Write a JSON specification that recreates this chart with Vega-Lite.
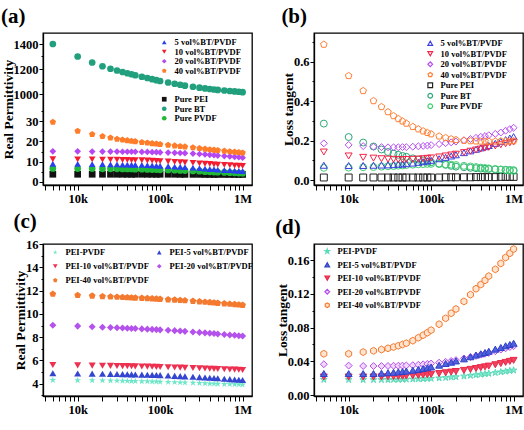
{
"$schema":"https://vega.github.io/schema/vega-lite/v6.json",
"background":"white",
"padding":{"left":0,"top":5,"right":0,"bottom":0},
"config":{
 "font":"Liberation Serif",
 "view":{"stroke":"black","strokeWidth":1.3},
 "axis":{"grid":false,"labelFont":"Liberation Serif","labelFontWeight":"bold","labelFontSize":12.5,"labelColor":"black","titleFont":"Liberation Serif","titleFontWeight":"bold","titleFontSize":13.5,"titleColor":"black","domainColor":"black","domainWidth":1.3,"tickColor":"black","tickWidth":1},
 "axisX":{"labelPadding":2,"titlePadding":2,"labelFlush":false,"labelOverlap":false,"values":[4,5,6,7,8,9,10,20,30,40,50,60,70,80,90,100,200,300,400,500,600,700,800,900,1000],"labelExpr":"datum.value==10?'10k':datum.value==100?'100k':datum.value==1000?'1M':''","title":"Frequency(Hz)"},
 "axisY":{"labelPadding":1,"titlePadding":-2,"labelOverlap":false},
 "legend":{"labelFont":"Liberation Serif","labelFontWeight":"bold","labelFontSize":8.5,"labelColor":"black","padding":0,"orient":"none","title":null,"symbolSize":22,"rowPadding":0.5,"labelOffset":6,"symbolStrokeWidth":1.2},
 "title":{"font":"Liberation Serif","fontWeight":"bold","fontSize":21,"color":"black","anchor":"start","frame":"bounds","offset":6}
},
"datasets":{
"ab":[
{"f":5,"s":"Pure PEI","e":3.8,"t":0.013},{"f":10,"s":"Pure PEI","e":3.8,"t":0.013},{"f":15,"s":"Pure PEI","e":3.8,"t":0.013},{"f":20,"s":"Pure PEI","e":3.8,"t":0.013},{"f":25,"s":"Pure PEI","e":3.8,"t":0.013},{"f":30,"s":"Pure PEI","e":3.8,"t":0.013},{"f":35,"s":"Pure PEI","e":3.8,"t":0.013},{"f":40,"s":"Pure PEI","e":3.8,"t":0.013},{"f":45,"s":"Pure PEI","e":3.8,"t":0.013},{"f":50,"s":"Pure PEI","e":3.8,"t":0.013},{"f":60,"s":"Pure PEI","e":3.8,"t":0.013},{"f":70,"s":"Pure PEI","e":3.8,"t":0.013},{"f":80,"s":"Pure PEI","e":3.8,"t":0.013},{"f":90,"s":"Pure PEI","e":3.8,"t":0.013},{"f":100,"s":"Pure PEI","e":3.8,"t":0.013},{"f":125,"s":"Pure PEI","e":3.8,"t":0.013},{"f":150,"s":"Pure PEI","e":3.8,"t":0.014},{"f":175,"s":"Pure PEI","e":3.75,"t":0.014},{"f":200,"s":"Pure PEI","e":3.75,"t":0.014},{"f":250,"s":"Pure PEI","e":3.75,"t":0.014},{"f":300,"s":"Pure PEI","e":3.75,"t":0.014},{"f":350,"s":"Pure PEI","e":3.7,"t":0.015},{"f":400,"s":"Pure PEI","e":3.7,"t":0.015},{"f":450,"s":"Pure PEI","e":3.7,"t":0.015},{"f":500,"s":"Pure PEI","e":3.7,"t":0.015},{"f":600,"s":"Pure PEI","e":3.7,"t":0.015},{"f":700,"s":"Pure PEI","e":3.7,"t":0.016},{"f":800,"s":"Pure PEI","e":3.7,"t":0.016},{"f":900,"s":"Pure PEI","e":3.7,"t":0.016},{"f":1000,"s":"Pure PEI","e":3.7,"t":0.016},
{"f":5,"s":"Pure BT","e":1400,"t":0.286},{"f":10,"s":"Pure BT","e":1300,"t":0.218},{"f":15,"s":"Pure BT","e":1252,"t":0.19},{"f":20,"s":"Pure BT","e":1222,"t":0.17},{"f":25,"s":"Pure BT","e":1202,"t":0.155},{"f":30,"s":"Pure BT","e":1188,"t":0.142},{"f":35,"s":"Pure BT","e":1176,"t":0.134},{"f":40,"s":"Pure BT","e":1166,"t":0.128},{"f":45,"s":"Pure BT","e":1158,"t":0.122},{"f":50,"s":"Pure BT","e":1150,"t":0.118},{"f":60,"s":"Pure BT","e":1138,"t":0.11},{"f":70,"s":"Pure BT","e":1128,"t":0.104},{"f":80,"s":"Pure BT","e":1119,"t":0.099},{"f":90,"s":"Pure BT","e":1111,"t":0.094},{"f":100,"s":"Pure BT","e":1104,"t":0.09},{"f":125,"s":"Pure BT","e":1092,"t":0.083},{"f":150,"s":"Pure BT","e":1082,"t":0.077},{"f":175,"s":"Pure BT","e":1074,"t":0.072},{"f":200,"s":"Pure BT","e":1067,"t":0.068},{"f":250,"s":"Pure BT","e":1058,"t":0.065},{"f":300,"s":"Pure BT","e":1051,"t":0.062},{"f":350,"s":"Pure BT","e":1045,"t":0.06},{"f":400,"s":"Pure BT","e":1040,"t":0.058},{"f":450,"s":"Pure BT","e":1036,"t":0.057},{"f":500,"s":"Pure BT","e":1033,"t":0.056},{"f":600,"s":"Pure BT","e":1028,"t":0.054},{"f":700,"s":"Pure BT","e":1024,"t":0.053},{"f":800,"s":"Pure BT","e":1021,"t":0.052},{"f":900,"s":"Pure BT","e":1018,"t":0.051},{"f":1000,"s":"Pure BT","e":1015,"t":0.05},
{"f":5,"s":"Pure PVDF","e":6.7,"t":0.062},{"f":10,"s":"Pure PVDF","e":6.6,"t":0.063},{"f":15,"s":"Pure PVDF","e":6.6,"t":0.065},{"f":20,"s":"Pure PVDF","e":6.5,"t":0.066},{"f":25,"s":"Pure PVDF","e":6.5,"t":0.068},{"f":30,"s":"Pure PVDF","e":6.5,"t":0.07},{"f":35,"s":"Pure PVDF","e":6.4,"t":0.071},{"f":40,"s":"Pure PVDF","e":6.4,"t":0.073},{"f":45,"s":"Pure PVDF","e":6.4,"t":0.074},{"f":50,"s":"Pure PVDF","e":6.3,"t":0.076},{"f":60,"s":"Pure PVDF","e":6.3,"t":0.078},{"f":70,"s":"Pure PVDF","e":6.2,"t":0.08},{"f":80,"s":"Pure PVDF","e":6.1,"t":0.081},{"f":90,"s":"Pure PVDF","e":6.1,"t":0.082},{"f":100,"s":"Pure PVDF","e":6.0,"t":0.082},{"f":125,"s":"Pure PVDF","e":5.9,"t":0.081},{"f":150,"s":"Pure PVDF","e":5.8,"t":0.08},{"f":175,"s":"Pure PVDF","e":5.7,"t":0.078},{"f":200,"s":"Pure PVDF","e":5.6,"t":0.076},{"f":250,"s":"Pure PVDF","e":5.4,"t":0.072},{"f":300,"s":"Pure PVDF","e":5.3,"t":0.069},{"f":350,"s":"Pure PVDF","e":5.1,"t":0.066},{"f":400,"s":"Pure PVDF","e":5.0,"t":0.063},{"f":450,"s":"Pure PVDF","e":4.9,"t":0.061},{"f":500,"s":"Pure PVDF","e":4.8,"t":0.059},{"f":600,"s":"Pure PVDF","e":4.7,"t":0.056},{"f":700,"s":"Pure PVDF","e":4.6,"t":0.053},{"f":800,"s":"Pure PVDF","e":4.5,"t":0.05},{"f":900,"s":"Pure PVDF","e":4.4,"t":0.048},{"f":1000,"s":"Pure PVDF","e":4.3,"t":0.046},
{"f":5,"s":"5 vol%BT/PVDF","e":9.0,"t":0.075},{"f":10,"s":"5 vol%BT/PVDF","e":8.9,"t":0.074},{"f":15,"s":"5 vol%BT/PVDF","e":8.8,"t":0.074},{"f":20,"s":"5 vol%BT/PVDF","e":8.8,"t":0.075},{"f":25,"s":"5 vol%BT/PVDF","e":8.7,"t":0.076},{"f":30,"s":"5 vol%BT/PVDF","e":8.7,"t":0.077},{"f":35,"s":"5 vol%BT/PVDF","e":8.6,"t":0.078},{"f":40,"s":"5 vol%BT/PVDF","e":8.6,"t":0.08},{"f":45,"s":"5 vol%BT/PVDF","e":8.5,"t":0.081},{"f":50,"s":"5 vol%BT/PVDF","e":8.5,"t":0.083},{"f":60,"s":"5 vol%BT/PVDF","e":8.4,"t":0.086},{"f":70,"s":"5 vol%BT/PVDF","e":8.3,"t":0.09},{"f":80,"s":"5 vol%BT/PVDF","e":8.2,"t":0.093},{"f":90,"s":"5 vol%BT/PVDF","e":8.1,"t":0.097},{"f":100,"s":"5 vol%BT/PVDF","e":8.0,"t":0.1},{"f":125,"s":"5 vol%BT/PVDF","e":7.8,"t":0.108},{"f":150,"s":"5 vol%BT/PVDF","e":7.6,"t":0.115},{"f":175,"s":"5 vol%BT/PVDF","e":7.5,"t":0.122},{"f":200,"s":"5 vol%BT/PVDF","e":7.3,"t":0.128},{"f":250,"s":"5 vol%BT/PVDF","e":7.1,"t":0.139},{"f":300,"s":"5 vol%BT/PVDF","e":6.8,"t":0.148},{"f":350,"s":"5 vol%BT/PVDF","e":6.6,"t":0.156},{"f":400,"s":"5 vol%BT/PVDF","e":6.4,"t":0.163},{"f":450,"s":"5 vol%BT/PVDF","e":6.3,"t":0.169},{"f":500,"s":"5 vol%BT/PVDF","e":6.1,"t":0.175},{"f":600,"s":"5 vol%BT/PVDF","e":5.9,"t":0.186},{"f":700,"s":"5 vol%BT/PVDF","e":5.8,"t":0.196},{"f":800,"s":"5 vol%BT/PVDF","e":5.6,"t":0.205},{"f":900,"s":"5 vol%BT/PVDF","e":5.5,"t":0.213},{"f":1000,"s":"5 vol%BT/PVDF","e":5.4,"t":0.22},
{"f":5,"s":"10 vol%BT/PVDF","e":11.2,"t":0.142},{"f":10,"s":"10 vol%BT/PVDF","e":11.1,"t":0.122},{"f":15,"s":"10 vol%BT/PVDF","e":11.1,"t":0.115},{"f":20,"s":"10 vol%BT/PVDF","e":11.0,"t":0.111},{"f":25,"s":"10 vol%BT/PVDF","e":11.0,"t":0.108},{"f":30,"s":"10 vol%BT/PVDF","e":11.0,"t":0.106},{"f":35,"s":"10 vol%BT/PVDF","e":10.9,"t":0.105},{"f":40,"s":"10 vol%BT/PVDF","e":10.9,"t":0.104},{"f":45,"s":"10 vol%BT/PVDF","e":10.8,"t":0.104},{"f":50,"s":"10 vol%BT/PVDF","e":10.8,"t":0.104},{"f":60,"s":"10 vol%BT/PVDF","e":10.7,"t":0.105},{"f":70,"s":"10 vol%BT/PVDF","e":10.6,"t":0.106},{"f":80,"s":"10 vol%BT/PVDF","e":10.5,"t":0.108},{"f":90,"s":"10 vol%BT/PVDF","e":10.4,"t":0.11},{"f":100,"s":"10 vol%BT/PVDF","e":10.3,"t":0.112},{"f":125,"s":"10 vol%BT/PVDF","e":10.1,"t":0.117},{"f":150,"s":"10 vol%BT/PVDF","e":9.9,"t":0.122},{"f":175,"s":"10 vol%BT/PVDF","e":9.8,"t":0.127},{"f":200,"s":"10 vol%BT/PVDF","e":9.6,"t":0.131},{"f":250,"s":"10 vol%BT/PVDF","e":9.4,"t":0.139},{"f":300,"s":"10 vol%BT/PVDF","e":9.2,"t":0.146},{"f":350,"s":"10 vol%BT/PVDF","e":9.0,"t":0.152},{"f":400,"s":"10 vol%BT/PVDF","e":8.9,"t":0.157},{"f":450,"s":"10 vol%BT/PVDF","e":8.7,"t":0.162},{"f":500,"s":"10 vol%BT/PVDF","e":8.6,"t":0.166},{"f":600,"s":"10 vol%BT/PVDF","e":8.4,"t":0.173},{"f":700,"s":"10 vol%BT/PVDF","e":8.3,"t":0.179},{"f":800,"s":"10 vol%BT/PVDF","e":8.1,"t":0.184},{"f":900,"s":"10 vol%BT/PVDF","e":8.0,"t":0.189},{"f":1000,"s":"10 vol%BT/PVDF","e":7.9,"t":0.193},
{"f":5,"s":"20 vol%BT/PVDF","e":15.1,"t":0.186},{"f":10,"s":"20 vol%BT/PVDF","e":15.1,"t":0.178},{"f":15,"s":"20 vol%BT/PVDF","e":15.0,"t":0.172},{"f":20,"s":"20 vol%BT/PVDF","e":15.0,"t":0.169},{"f":25,"s":"20 vol%BT/PVDF","e":15.0,"t":0.167},{"f":30,"s":"20 vol%BT/PVDF","e":15.0,"t":0.166},{"f":35,"s":"20 vol%BT/PVDF","e":14.9,"t":0.166},{"f":40,"s":"20 vol%BT/PVDF","e":14.9,"t":0.166},{"f":45,"s":"20 vol%BT/PVDF","e":14.9,"t":0.167},{"f":50,"s":"20 vol%BT/PVDF","e":14.9,"t":0.167},{"f":60,"s":"20 vol%BT/PVDF","e":14.8,"t":0.169},{"f":70,"s":"20 vol%BT/PVDF","e":14.8,"t":0.171},{"f":80,"s":"20 vol%BT/PVDF","e":14.7,"t":0.173},{"f":90,"s":"20 vol%BT/PVDF","e":14.7,"t":0.175},{"f":100,"s":"20 vol%BT/PVDF","e":14.6,"t":0.177},{"f":125,"s":"20 vol%BT/PVDF","e":14.5,"t":0.182},{"f":150,"s":"20 vol%BT/PVDF","e":14.4,"t":0.187},{"f":175,"s":"20 vol%BT/PVDF","e":14.3,"t":0.191},{"f":200,"s":"20 vol%BT/PVDF","e":14.2,"t":0.195},{"f":250,"s":"20 vol%BT/PVDF","e":14.0,"t":0.202},{"f":300,"s":"20 vol%BT/PVDF","e":13.8,"t":0.208},{"f":350,"s":"20 vol%BT/PVDF","e":13.6,"t":0.214},{"f":400,"s":"20 vol%BT/PVDF","e":13.4,"t":0.219},{"f":450,"s":"20 vol%BT/PVDF","e":13.2,"t":0.223},{"f":500,"s":"20 vol%BT/PVDF","e":13.0,"t":0.227},{"f":600,"s":"20 vol%BT/PVDF","e":12.8,"t":0.234},{"f":700,"s":"20 vol%BT/PVDF","e":12.6,"t":0.241},{"f":800,"s":"20 vol%BT/PVDF","e":12.4,"t":0.25},{"f":900,"s":"20 vol%BT/PVDF","e":12.2,"t":0.258},{"f":1000,"s":"20 vol%BT/PVDF","e":12.0,"t":0.265},
{"f":5,"s":"40 vol%BT/PVDF","e":29.6,"t":0.687},{"f":10,"s":"40 vol%BT/PVDF","e":25.1,"t":0.528},{"f":15,"s":"40 vol%BT/PVDF","e":23.5,"t":0.452},{"f":20,"s":"40 vol%BT/PVDF","e":22.5,"t":0.401},{"f":25,"s":"40 vol%BT/PVDF","e":21.8,"t":0.371},{"f":30,"s":"40 vol%BT/PVDF","e":21.2,"t":0.345},{"f":35,"s":"40 vol%BT/PVDF","e":20.8,"t":0.325},{"f":40,"s":"40 vol%BT/PVDF","e":20.5,"t":0.31},{"f":45,"s":"40 vol%BT/PVDF","e":20.2,"t":0.298},{"f":50,"s":"40 vol%BT/PVDF","e":20.0,"t":0.287},{"f":60,"s":"40 vol%BT/PVDF","e":19.6,"t":0.27},{"f":70,"s":"40 vol%BT/PVDF","e":19.3,"t":0.258},{"f":80,"s":"40 vol%BT/PVDF","e":19.0,"t":0.248},{"f":90,"s":"40 vol%BT/PVDF","e":18.8,"t":0.24},{"f":100,"s":"40 vol%BT/PVDF","e":18.6,"t":0.233},{"f":125,"s":"40 vol%BT/PVDF","e":18.2,"t":0.222},{"f":150,"s":"40 vol%BT/PVDF","e":17.9,"t":0.214},{"f":175,"s":"40 vol%BT/PVDF","e":17.6,"t":0.208},{"f":200,"s":"40 vol%BT/PVDF","e":17.4,"t":0.204},{"f":250,"s":"40 vol%BT/PVDF","e":17.0,"t":0.2},{"f":300,"s":"40 vol%BT/PVDF","e":16.6,"t":0.198},{"f":350,"s":"40 vol%BT/PVDF","e":16.3,"t":0.197},{"f":400,"s":"40 vol%BT/PVDF","e":16.0,"t":0.196},{"f":450,"s":"40 vol%BT/PVDF","e":15.8,"t":0.196},{"f":500,"s":"40 vol%BT/PVDF","e":15.6,"t":0.196},{"f":600,"s":"40 vol%BT/PVDF","e":15.3,"t":0.196},{"f":700,"s":"40 vol%BT/PVDF","e":15.0,"t":0.197},{"f":800,"s":"40 vol%BT/PVDF","e":14.8,"t":0.197},{"f":900,"s":"40 vol%BT/PVDF","e":14.6,"t":0.198},{"f":1000,"s":"40 vol%BT/PVDF","e":14.4,"t":0.198}
],
"cd":[
{"f":5,"s":"PEI-PVDF","e":4.32,"t":0.0185},{"f":10,"s":"PEI-PVDF","e":4.3,"t":0.0183},{"f":15,"s":"PEI-PVDF","e":4.29,"t":0.0182},{"f":20,"s":"PEI-PVDF","e":4.28,"t":0.0182},{"f":25,"s":"PEI-PVDF","e":4.27,"t":0.0182},{"f":30,"s":"PEI-PVDF","e":4.26,"t":0.0183},{"f":35,"s":"PEI-PVDF","e":4.25,"t":0.0184},{"f":40,"s":"PEI-PVDF","e":4.24,"t":0.0185},{"f":45,"s":"PEI-PVDF","e":4.23,"t":0.0186},{"f":50,"s":"PEI-PVDF","e":4.22,"t":0.0187},{"f":60,"s":"PEI-PVDF","e":4.21,"t":0.0189},{"f":70,"s":"PEI-PVDF","e":4.2,"t":0.0191},{"f":80,"s":"PEI-PVDF","e":4.19,"t":0.0193},{"f":90,"s":"PEI-PVDF","e":4.18,"t":0.0195},{"f":100,"s":"PEI-PVDF","e":4.17,"t":0.0197},{"f":125,"s":"PEI-PVDF","e":4.15,"t":0.0202},{"f":150,"s":"PEI-PVDF","e":4.13,"t":0.0207},{"f":175,"s":"PEI-PVDF","e":4.11,"t":0.0212},{"f":200,"s":"PEI-PVDF","e":4.1,"t":0.0216},{"f":250,"s":"PEI-PVDF","e":4.07,"t":0.0224},{"f":300,"s":"PEI-PVDF","e":4.05,"t":0.0232},{"f":350,"s":"PEI-PVDF","e":4.03,"t":0.0239},{"f":400,"s":"PEI-PVDF","e":4.02,"t":0.0245},{"f":450,"s":"PEI-PVDF","e":4.0,"t":0.0251},{"f":500,"s":"PEI-PVDF","e":3.99,"t":0.0256},{"f":600,"s":"PEI-PVDF","e":3.97,"t":0.0266},{"f":700,"s":"PEI-PVDF","e":3.96,"t":0.0274},{"f":800,"s":"PEI-PVDF","e":3.95,"t":0.0282},{"f":900,"s":"PEI-PVDF","e":3.94,"t":0.0289},{"f":1000,"s":"PEI-PVDF","e":3.93,"t":0.0295},
{"f":5,"s":"PEI-10 vol%BT/PVDF","e":5.61,"t":0.0215},{"f":10,"s":"PEI-10 vol%BT/PVDF","e":5.58,"t":0.0215},{"f":15,"s":"PEI-10 vol%BT/PVDF","e":5.56,"t":0.0215},{"f":20,"s":"PEI-10 vol%BT/PVDF","e":5.55,"t":0.0215},{"f":25,"s":"PEI-10 vol%BT/PVDF","e":5.54,"t":0.0216},{"f":30,"s":"PEI-10 vol%BT/PVDF","e":5.53,"t":0.0218},{"f":35,"s":"PEI-10 vol%BT/PVDF","e":5.52,"t":0.022},{"f":40,"s":"PEI-10 vol%BT/PVDF","e":5.51,"t":0.0222},{"f":45,"s":"PEI-10 vol%BT/PVDF","e":5.5,"t":0.0224},{"f":50,"s":"PEI-10 vol%BT/PVDF","e":5.49,"t":0.0226},{"f":60,"s":"PEI-10 vol%BT/PVDF","e":5.48,"t":0.023},{"f":70,"s":"PEI-10 vol%BT/PVDF","e":5.47,"t":0.0234},{"f":80,"s":"PEI-10 vol%BT/PVDF","e":5.46,"t":0.0238},{"f":90,"s":"PEI-10 vol%BT/PVDF","e":5.45,"t":0.0242},{"f":100,"s":"PEI-10 vol%BT/PVDF","e":5.44,"t":0.0246},{"f":125,"s":"PEI-10 vol%BT/PVDF","e":5.42,"t":0.0256},{"f":150,"s":"PEI-10 vol%BT/PVDF","e":5.4,"t":0.0265},{"f":175,"s":"PEI-10 vol%BT/PVDF","e":5.39,"t":0.0273},{"f":200,"s":"PEI-10 vol%BT/PVDF","e":5.37,"t":0.028},{"f":250,"s":"PEI-10 vol%BT/PVDF","e":5.35,"t":0.0293},{"f":300,"s":"PEI-10 vol%BT/PVDF","e":5.33,"t":0.0305},{"f":350,"s":"PEI-10 vol%BT/PVDF","e":5.31,"t":0.0316},{"f":400,"s":"PEI-10 vol%BT/PVDF","e":5.29,"t":0.0326},{"f":450,"s":"PEI-10 vol%BT/PVDF","e":5.28,"t":0.0335},{"f":500,"s":"PEI-10 vol%BT/PVDF","e":5.27,"t":0.0344},{"f":600,"s":"PEI-10 vol%BT/PVDF","e":5.25,"t":0.036},{"f":700,"s":"PEI-10 vol%BT/PVDF","e":5.23,"t":0.0374},{"f":800,"s":"PEI-10 vol%BT/PVDF","e":5.21,"t":0.0388},{"f":900,"s":"PEI-10 vol%BT/PVDF","e":5.2,"t":0.04},{"f":1000,"s":"PEI-10 vol%BT/PVDF","e":5.18,"t":0.0412},
{"f":5,"s":"PEI-20 vol%BT/PVDF","e":9.03,"t":0.0366},{"f":10,"s":"PEI-20 vol%BT/PVDF","e":8.95,"t":0.035},{"f":15,"s":"PEI-20 vol%BT/PVDF","e":8.9,"t":0.0345},{"f":20,"s":"PEI-20 vol%BT/PVDF","e":8.86,"t":0.0345},{"f":25,"s":"PEI-20 vol%BT/PVDF","e":8.83,"t":0.0345},{"f":30,"s":"PEI-20 vol%BT/PVDF","e":8.81,"t":0.0346},{"f":35,"s":"PEI-20 vol%BT/PVDF","e":8.79,"t":0.0348},{"f":40,"s":"PEI-20 vol%BT/PVDF","e":8.77,"t":0.0349},{"f":45,"s":"PEI-20 vol%BT/PVDF","e":8.75,"t":0.035},{"f":50,"s":"PEI-20 vol%BT/PVDF","e":8.74,"t":0.0351},{"f":60,"s":"PEI-20 vol%BT/PVDF","e":8.71,"t":0.0355},{"f":70,"s":"PEI-20 vol%BT/PVDF","e":8.69,"t":0.036},{"f":80,"s":"PEI-20 vol%BT/PVDF","e":8.67,"t":0.0365},{"f":90,"s":"PEI-20 vol%BT/PVDF","e":8.65,"t":0.037},{"f":100,"s":"PEI-20 vol%BT/PVDF","e":8.63,"t":0.0375},{"f":125,"s":"PEI-20 vol%BT/PVDF","e":8.59,"t":0.0385},{"f":150,"s":"PEI-20 vol%BT/PVDF","e":8.56,"t":0.0395},{"f":175,"s":"PEI-20 vol%BT/PVDF","e":8.53,"t":0.0405},{"f":200,"s":"PEI-20 vol%BT/PVDF","e":8.5,"t":0.0415},{"f":250,"s":"PEI-20 vol%BT/PVDF","e":8.45,"t":0.0435},{"f":300,"s":"PEI-20 vol%BT/PVDF","e":8.41,"t":0.045},{"f":350,"s":"PEI-20 vol%BT/PVDF","e":8.37,"t":0.0465},{"f":400,"s":"PEI-20 vol%BT/PVDF","e":8.34,"t":0.048},{"f":450,"s":"PEI-20 vol%BT/PVDF","e":8.31,"t":0.049},{"f":500,"s":"PEI-20 vol%BT/PVDF","e":8.28,"t":0.05},{"f":600,"s":"PEI-20 vol%BT/PVDF","e":8.23,"t":0.052},{"f":700,"s":"PEI-20 vol%BT/PVDF","e":8.19,"t":0.054},{"f":800,"s":"PEI-20 vol%BT/PVDF","e":8.16,"t":0.0555},{"f":900,"s":"PEI-20 vol%BT/PVDF","e":8.13,"t":0.057},{"f":1000,"s":"PEI-20 vol%BT/PVDF","e":8.1,"t":0.058},
{"f":5,"s":"PEI-5 vol%BT/PVDF","e":4.9,"t":0.0256},{"f":10,"s":"PEI-5 vol%BT/PVDF","e":4.88,"t":0.0255},{"f":15,"s":"PEI-5 vol%BT/PVDF","e":4.87,"t":0.0255},{"f":20,"s":"PEI-5 vol%BT/PVDF","e":4.86,"t":0.0256},{"f":25,"s":"PEI-5 vol%BT/PVDF","e":4.85,"t":0.026},{"f":30,"s":"PEI-5 vol%BT/PVDF","e":4.84,"t":0.0265},{"f":35,"s":"PEI-5 vol%BT/PVDF","e":4.83,"t":0.027},{"f":40,"s":"PEI-5 vol%BT/PVDF","e":4.82,"t":0.0275},{"f":45,"s":"PEI-5 vol%BT/PVDF","e":4.81,"t":0.028},{"f":50,"s":"PEI-5 vol%BT/PVDF","e":4.8,"t":0.0285},{"f":60,"s":"PEI-5 vol%BT/PVDF","e":4.79,"t":0.0295},{"f":70,"s":"PEI-5 vol%BT/PVDF","e":4.77,"t":0.0305},{"f":80,"s":"PEI-5 vol%BT/PVDF","e":4.76,"t":0.0315},{"f":90,"s":"PEI-5 vol%BT/PVDF","e":4.75,"t":0.0325},{"f":100,"s":"PEI-5 vol%BT/PVDF","e":4.74,"t":0.0334},{"f":125,"s":"PEI-5 vol%BT/PVDF","e":4.71,"t":0.0355},{"f":150,"s":"PEI-5 vol%BT/PVDF","e":4.68,"t":0.0375},{"f":175,"s":"PEI-5 vol%BT/PVDF","e":4.66,"t":0.039},{"f":200,"s":"PEI-5 vol%BT/PVDF","e":4.64,"t":0.0405},{"f":250,"s":"PEI-5 vol%BT/PVDF","e":4.6,"t":0.043},{"f":300,"s":"PEI-5 vol%BT/PVDF","e":4.57,"t":0.0455},{"f":350,"s":"PEI-5 vol%BT/PVDF","e":4.54,"t":0.0475},{"f":400,"s":"PEI-5 vol%BT/PVDF","e":4.52,"t":0.049},{"f":450,"s":"PEI-5 vol%BT/PVDF","e":4.49,"t":0.0505},{"f":500,"s":"PEI-5 vol%BT/PVDF","e":4.47,"t":0.052},{"f":600,"s":"PEI-5 vol%BT/PVDF","e":4.43,"t":0.0545},{"f":700,"s":"PEI-5 vol%BT/PVDF","e":4.4,"t":0.0565},{"f":800,"s":"PEI-5 vol%BT/PVDF","e":4.37,"t":0.0585},{"f":900,"s":"PEI-5 vol%BT/PVDF","e":4.35,"t":0.06},{"f":1000,"s":"PEI-5 vol%BT/PVDF","e":4.32,"t":0.0615},
{"f":5,"s":"PEI-40 vol%BT/PVDF","e":11.71,"t":0.049},{"f":10,"s":"PEI-40 vol%BT/PVDF","e":11.6,"t":0.049},{"f":15,"s":"PEI-40 vol%BT/PVDF","e":11.55,"t":0.051},{"f":20,"s":"PEI-40 vol%BT/PVDF","e":11.5,"t":0.0525},{"f":25,"s":"PEI-40 vol%BT/PVDF","e":11.47,"t":0.054},{"f":30,"s":"PEI-40 vol%BT/PVDF","e":11.45,"t":0.0555},{"f":35,"s":"PEI-40 vol%BT/PVDF","e":11.43,"t":0.057},{"f":40,"s":"PEI-40 vol%BT/PVDF","e":11.41,"t":0.0585},{"f":45,"s":"PEI-40 vol%BT/PVDF","e":11.39,"t":0.06},{"f":50,"s":"PEI-40 vol%BT/PVDF","e":11.38,"t":0.0615},{"f":60,"s":"PEI-40 vol%BT/PVDF","e":11.35,"t":0.0645},{"f":70,"s":"PEI-40 vol%BT/PVDF","e":11.33,"t":0.068},{"f":80,"s":"PEI-40 vol%BT/PVDF","e":11.31,"t":0.071},{"f":90,"s":"PEI-40 vol%BT/PVDF","e":11.29,"t":0.074},{"f":100,"s":"PEI-40 vol%BT/PVDF","e":11.27,"t":0.077},{"f":125,"s":"PEI-40 vol%BT/PVDF","e":11.23,"t":0.084},{"f":150,"s":"PEI-40 vol%BT/PVDF","e":11.2,"t":0.091},{"f":175,"s":"PEI-40 vol%BT/PVDF","e":11.17,"t":0.097},{"f":200,"s":"PEI-40 vol%BT/PVDF","e":11.15,"t":0.102},{"f":250,"s":"PEI-40 vol%BT/PVDF","e":11.1,"t":0.111},{"f":300,"s":"PEI-40 vol%BT/PVDF","e":11.06,"t":0.119},{"f":350,"s":"PEI-40 vol%BT/PVDF","e":11.02,"t":0.126},{"f":400,"s":"PEI-40 vol%BT/PVDF","e":10.99,"t":0.131},{"f":450,"s":"PEI-40 vol%BT/PVDF","e":10.96,"t":0.136},{"f":500,"s":"PEI-40 vol%BT/PVDF","e":10.93,"t":0.141},{"f":600,"s":"PEI-40 vol%BT/PVDF","e":10.89,"t":0.149},{"f":700,"s":"PEI-40 vol%BT/PVDF","e":10.85,"t":0.156},{"f":800,"s":"PEI-40 vol%BT/PVDF","e":10.82,"t":0.163},{"f":900,"s":"PEI-40 vol%BT/PVDF","e":10.79,"t":0.168},{"f":1000,"s":"PEI-40 vol%BT/PVDF","e":10.76,"t":0.173}
]
},
"columns":2,
"spacing":{"row":59,"column":62},
"bounds":"flush",
"resolve":{"scale":{"color":"independent","shape":"independent","fill":"independent","stroke":"independent"},"legend":{"color":"independent","shape":"independent","fill":"independent","stroke":"independent"}},
"concat":[
 {"title":{"text":"(a)"},"width":209,"height":152,"data":{"name":"ab"},
  "encoding":{
   "x":{"field":"f","type":"quantitative","scale":{"type":"log","domain":[3.8,1300],"nice":false}},
   "y":{"field":"e","type":"quantitative","scale":{"domain":[-1.5,36.5,904,1488],"range":[152,75,73,0],"nice":false,"zero":false},
        "axis":{"title":"Real Permittivity","values":[0,5,10,15,20,25,30,35,1000,1100,1200,1300,1400],"format":"d","labelOverlap":false,"labelBound":false,"labelExpr":"datum.value==0||datum.value==10||datum.value==20||datum.value==30||datum.value==1000||datum.value==1200||datum.value==1400?datum.label:''","tickSize":{"condition":{"test":"datum.value==0||datum.value==10||datum.value==20||datum.value==30||datum.value==1000||datum.value==1200||datum.value==1400","value":4},"value":2}}}
  },
  "layer":[
   {"transform":[{"filter":{"field":"s","oneOf":["Pure PEI","Pure BT","Pure PVDF"]}}],
    "mark":{"type":"point","filled":true,"size":45,"opacity":1},
    "encoding":{
     "color":{"field":"s","type":"nominal","scale":{"domain":["Pure PEI","Pure BT","Pure PVDF"],"range":["#111111","#22a07e","#22b83a"]},"legend":{"legendX":117,"legendY":62}},
     "shape":{"field":"s","type":"nominal","scale":{"domain":["Pure PEI","Pure BT","Pure PVDF"],"range":["square","circle","circle"]}}
    }},
   {"transform":[{"filter":{"field":"s","oneOf":["5 vol%BT/PVDF","10 vol%BT/PVDF","20 vol%BT/PVDF","40 vol%BT/PVDF"]}}],
    "mark":{"type":"point","filled":true,"size":45,"opacity":1},
    "encoding":{
     "color":{"field":"s","type":"nominal","scale":{"domain":["5 vol%BT/PVDF","10 vol%BT/PVDF","20 vol%BT/PVDF","40 vol%BT/PVDF"],"range":["#2a40f0","#f41c30","#b648f2","#ff7c2a"]},"legend":{"legendX":117,"legendY":5}},
     "shape":{"field":"s","type":"nominal","scale":{"domain":["5 vol%BT/PVDF","10 vol%BT/PVDF","20 vol%BT/PVDF","40 vol%BT/PVDF"],"range":["triangle-up","triangle-down","diamond","M0,-1L0.951,-0.309L0.588,0.809L-0.588,0.809L-0.951,-0.309Z"]}}
    }}
  ],
  "resolve":{"scale":{"color":"independent","shape":"independent"}}
 },
 {"title":{"text":"(b)"},"width":209,"height":152,"data":{"name":"ab"},
  "mark":{"type":"point","filled":false,"size":48,"strokeWidth":1,"opacity":1},
  "encoding":{
   "x":{"field":"f","type":"quantitative","scale":{"type":"log","domain":[3.8,1300],"nice":false}},
   "y":{"field":"t","type":"quantitative","scale":{"domain":[-0.025,0.745],"nice":false,"zero":false},
        "axis":{"title":"Loss tangent","values":[0,0.1,0.2,0.3,0.4,0.5,0.6,0.7],"format":".1f","labelExpr":"round(datum.value*10)%2==0?datum.label:''","tickSize":{"condition":{"test":"round(datum.value*10)%2==0","value":4},"value":2}}},
   "color":{"field":"s","type":"nominal","scale":{"domain":["5 vol%BT/PVDF","10 vol%BT/PVDF","20 vol%BT/PVDF","40 vol%BT/PVDF","Pure PEI","Pure BT","Pure PVDF"],"range":["#3a3ee0","#f42448","#b84cf4","#ff8034","#222222","#2ca878","#40d070"]},"legend":{"legendX":112,"legendY":6}},
   "shape":{"field":"s","type":"nominal","scale":{"domain":["5 vol%BT/PVDF","10 vol%BT/PVDF","20 vol%BT/PVDF","40 vol%BT/PVDF","Pure PEI","Pure BT","Pure PVDF"],"range":["triangle-up","triangle-down","diamond","M0,-1L0.951,-0.309L0.588,0.809L-0.588,0.809L-0.951,-0.309Z","square","circle","circle"]}}
  }
 },
 {"title":{"text":"(c)"},"width":209,"height":152,"data":{"name":"cd"},
  "mark":{"type":"point","filled":true,"size":50,"opacity":1},
  "encoding":{
   "x":{"field":"f","type":"quantitative","scale":{"type":"log","domain":[3.8,1300],"nice":false}},
   "y":{"field":"e","type":"quantitative","scale":{"domain":[2.95,16],"nice":false,"zero":false},
        "axis":{"title":"Real Permittivity","values":[3,4,5,6,7,8,9,10,11,12,13,14,15,16],"labelExpr":"datum.value%2==0?datum.label:''","tickSize":{"condition":{"test":"datum.value%2==0","value":4},"value":2}}},
   "color":{"field":"s","type":"nominal","scale":{"domain":["PEI-PVDF","PEI-10 vol%BT/PVDF","PEI-40 vol%BT/PVDF","PEI-5 vol%BT/PVDF","PEI-20 vol%BT/PVDF"],"range":["#6ee6c8","#ee3050","#f47a30","#3446d0","#b452ec"]},"legend":{"legendX":8,"legendY":4,"columns":2,"columnPadding":6,"rowPadding":5}},
   "shape":{"field":"s","type":"nominal","scale":{"domain":["PEI-PVDF","PEI-10 vol%BT/PVDF","PEI-40 vol%BT/PVDF","PEI-5 vol%BT/PVDF","PEI-20 vol%BT/PVDF"],"range":["M0,-1L0.2245,-0.309L0.951,-0.309L0.363,0.118L0.588,0.809L0,0.382L-0.588,0.809L-0.363,0.118L-0.951,-0.309L-0.2245,-0.309Z","triangle-down","M0,-1L0.951,-0.309L0.588,0.809L-0.588,0.809L-0.951,-0.309Z","triangle-up","diamond"]}}
  }
 },
 {"title":{"text":"(d)"},"width":209,"height":152,"data":{"name":"cd"},
  "mark":{"type":"point","filled":true,"size":48,"strokeWidth":1,"opacity":1},
  "encoding":{
   "x":{"field":"f","type":"quantitative","scale":{"type":"log","domain":[3.8,1300],"nice":false}},
   "y":{"field":"t","type":"quantitative","scale":{"domain":[-0.001,0.179],"nice":false,"zero":false},
        "axis":{"title":"Loss tangent","values":[0,0.02,0.04,0.06,0.08,0.1,0.12,0.14,0.16],"format":".2f","labelExpr":"round(datum.value*100)%4==0?datum.label:''","tickSize":{"condition":{"test":"round(datum.value*100)%4==0","value":4},"value":2}}},
   "fill":{"field":"s","type":"nominal","scale":{"domain":["PEI-PVDF","PEI-5 vol%BT/PVDF","PEI-10 vol%BT/PVDF","PEI-20 vol%BT/PVDF","PEI-40 vol%BT/PVDF"],"range":["#7eeccf","#5262dc","#f2425e","#f0d8fa","#ffe4d0"]},"legend":{"legendX":9,"legendY":3,"rowPadding":3.5}},
   "stroke":{"field":"s","type":"nominal","scale":{"domain":["PEI-PVDF","PEI-5 vol%BT/PVDF","PEI-10 vol%BT/PVDF","PEI-20 vol%BT/PVDF","PEI-40 vol%BT/PVDF"],"range":["#5ed8b8","#3040c8","#e82848","#b450ec","#f47a30"]}},
   "shape":{"field":"s","type":"nominal","scale":{"domain":["PEI-PVDF","PEI-5 vol%BT/PVDF","PEI-10 vol%BT/PVDF","PEI-20 vol%BT/PVDF","PEI-40 vol%BT/PVDF"],"range":["M0,-1L0.2245,-0.309L0.951,-0.309L0.363,0.118L0.588,0.809L0,0.382L-0.588,0.809L-0.363,0.118L-0.951,-0.309L-0.2245,-0.309Z","triangle-up","triangle-down","diamond","M0,-1L0.866,-0.5L0.866,0.5L0,1L-0.866,0.5L-0.866,-0.5Z"]}}
  }
 }
]
}
